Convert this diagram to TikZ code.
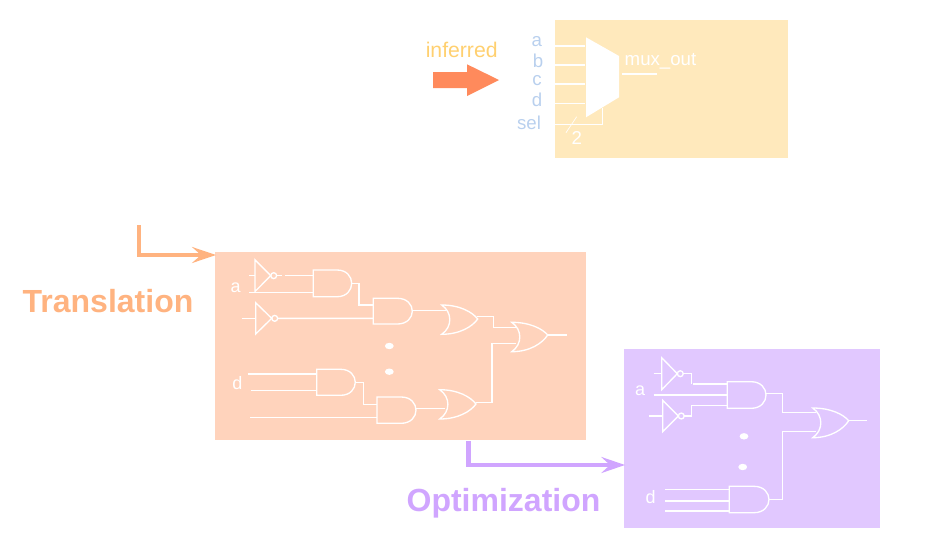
\documentclass[tikz,border=0pt]{standalone}
\usepackage{fontspec}
\setmainfont{Liberation Sans}
\definecolor{boxY}{HTML}{FFE9BC}
\definecolor{boxO}{HTML}{FFD3BC}
\definecolor{boxP}{HTML}{E1C8FF}
\definecolor{arrO}{HTML}{FF8A5C}
\definecolor{lineO}{HTML}{FFB380}
\definecolor{lineP}{HTML}{D0A5FF}
\definecolor{txtY}{HTML}{FFD070}
\definecolor{txtB}{HTML}{B9D0EE}
\usetikzlibrary{shapes.geometric}
\tikzset{
 wire/.style={draw=white,line width=1pt},
 gate/.style={draw=white,line width=1pt},
 dotn/.style={ellipse,fill=white,inner sep=0pt,minimum width=6.6pt,minimum height=4.8pt},
 lab/.style={font=\fontsize{14}{14}\selectfont,inner sep=0pt},
 inlab/.style={lab,text=white},
 cirlab/.style={font=\fontsize{13.5}{14}\selectfont,inner sep=0pt,text=white},
 sidelab/.style={lab,text=txtB},
 big/.style={font=\fontsize{24}{25}\bfseries\selectfont,inner sep=0pt},
 route/.style={line width=3.4pt}
}
% and gate: name, left, top, bottom, tip
\newcommand{\andgate}[5]{%
 \draw[gate] (#2,#3) -- ({#2+(#5-#2)*0.62},#3) .. controls ({#5-(#5-#2)*0.13},#3) and (#5,{#3+(#4-#3)*0.25}) .. (#5,{(#3+#4)/2}) .. controls (#5,{#4-(#4-#3)*0.25}) and ({#5-(#5-#2)*0.13},#4) .. ({#2+(#5-#2)*0.62},#4) -- (#2,#4) -- cycle;
 \coordinate (#1) at (#5,{(#3+#4)/2});}
% or gate: name, left, top, bottom, tip x, tip y
\newcommand{\orgate}[6]{%
 \draw[gate] (#2,#3) .. controls ({#2+(#5-#2)*0.5},#3) and ({#5-(#5-#2)*0.15},{#3+(#6-#3)*0.5}) .. (#5,#6) .. controls ({#5-(#5-#2)*0.15},{#4-(#4-#6)*0.5}) and ({#2+(#5-#2)*0.5},#4) .. (#2,#4) .. controls ({#2+(#5-#2)*0.3},{#4-(#4-#3)*0.25}) and ({#2+(#5-#2)*0.3},{#3+(#4-#3)*0.25}) .. (#2,#3) -- cycle;
 \coordinate (#1) at (#5,#6);}
% inverter: name, left, top, bottom, tip
\newcommand{\invgate}[5]{%
 \draw[gate] (#2,#3) -- (#5,{(#3+#4)/2}) -- (#2,#4) -- cycle;
 \draw[gate] ({#5+3},{(#3+#4)/2}) circle[radius=2.2pt];
 \coordinate (#1) at ({#5+6},{(#3+#4)/2});}
\begin{document}
\begin{tikzpicture}[x=0.75pt,y=-0.75pt]
\useasboundingbox (0,0) rectangle (928,557);
% top box
\fill[boxY] (555,20) rectangle (788,157.7);
\node[font=\fontsize{15.9}{16}\selectfont,text=txtY,inner sep=0pt] (inf) at (461.7,50) {inferred};
\fill[arrO] (433,72) -- (467,72) -- (467,64.3) -- (499,80) -- (467,96) -- (467,88) -- (433,88) -- cycle;
\coordinate (ma) at (585,46); \coordinate (mb) at (585,65); \coordinate (mc) at (585,84); \coordinate (md) at (585,103.3);
\coordinate (ia) at (555,46); \coordinate (ib) at (555,65); \coordinate (ic) at (555,84); \coordinate (id) at (555,103.3);
\foreach \p/\q in {ia/ma,ib/mb,ic/mc,id/md} \draw[wire] (\p) -- (\q);
\fill[white] (586,37.3) -- (619,56) -- (619,97.3) -- (586,117.3) -- cycle;
\node[sidelab] (la) at (536.7,42) {a};
\node[sidelab] (lb) at (538,60.5) {b};
\node[sidelab] (lc) at (537,80.5) {c};
\node[sidelab] (ld) at (537,100) {d};
\node[sidelab] (lsel) at (529,122.5) {sel};
\coordinate (s0) at (555,124.3); \coordinate (s1) at (602.3,108);
\draw[wire] (s0) -| (s1);
\coordinate (t0) at (576.7,116.7); \coordinate (t1) at (566,132.7);
\draw[draw=white,line width=0.5pt] (t0) -- (t1);
\node[inlab] (ltwo) at (576.7,138.3) {2};
\node[inlab] (lout) at (660.5,61.7) {mux\_out};
\coordinate (o0) at (621.7,74); \coordinate (o1) at (656.7,74);
\draw[wire] (o0) -- (o1);
% orange box
\fill[boxO] (215,252.3) rectangle (586,440.3);
\node[big,text=lineO] (tr) at (108,301) {Translation};
\coordinate (r0) at (139,225);\coordinate (r1) at (202,255);
\draw[route,draw=lineO] (r0) |- (r1);
\fill[lineO] (216,255) -- (191.7,246.8) -- (201,255) -- (191.7,263.2) -- cycle;
\invgate{i1}{255}{259.8}{291.5}{270.7}
\invgate{i2}{255.7}{302.7}{334}{271.7}
\andgate{a1}{313.3}{270}{296.7}{351.7}
\andgate{a2}{373.3}{298.3}{324}{412.3}
\andgate{a3}{316.7}{369.3}{395.3}{355.3}
\andgate{a4}{377}{397}{423.3}{416}
\orgate{o1g}{441.7}{305}{334.3}{477.7}{319}
\orgate{o2g}{511.7}{322.3}{351.7}{547.7}{335}
\orgate{o3g}{439.7}{389.7}{419}{476}{404}
\draw[wire] (249.3,275.7) -- (255,275.7);
\draw[wire] (i1) -- (282,275.65);
\draw[wire] (284.5,275.7) -- (313.3,275.7);
\draw[wire] (249.3,292.3) -- (313.3,292.3);
\draw[wire] (351.7,283.7) -- (359,283.7) -- (359,305) -- (373.3,305);
\draw[wire] (241.7,318.3) -- (255.7,318.3);
\draw[wire] (i2) -- (373.3,318.35);
\draw[wire] (411.8,310.7) -- (446,310.7);
\draw[wire] (477.2,316.7) -- (493.3,316.7) -- (493.3,327.3) -- (515.5,327.3);
\draw[wire] (475.7,402.3) -- (492,402.3) -- (492,343.3) -- (515.5,343.3);
\draw[wire] (o2g) -- (567.3,335);
\draw[wire] (247.7,374) -- (316.7,374);
\draw[wire] (251,390.7) -- (316.7,390.7);
\draw[wire] (355,382.3) -- (363.3,382.3) -- (363.3,404.3) -- (377,404.3);
\draw[wire] (250,417.7) -- (377,417.7);
\draw[wire] (415.5,408.7) -- (444.5,408.7);
\node[dotn] (d1) at (389.3,346) {};
\node[dotn] (d2) at (389.3,371.7) {};
\node[cirlab] (oa) at (235.7,287.3) {a};
\node[cirlab] (od) at (237.3,383.3) {d};
% purple box
\fill[boxP] (624,349) rectangle (879.7,528.3);
\node[big,text=lineP] (op) at (503.5,503.5) {Optimization};
\coordinate (q0) at (468.5,441);\coordinate (q1) at (611,465);
\draw[route,draw=lineP] (q0) |- (q1);
\fill[lineP] (625,465) -- (601,456.8) -- (610,465) -- (601,473.2) -- cycle;
\invgate{i3}{661.7}{357.7}{389.7}{677.3}
\invgate{i4}{662.7}{400.3}{431.7}{678.3}
\andgate{a5}{727.3}{381.7}{408.3}{766}
\andgate{a6}{729.3}{486.3}{512.7}{769}
\orgate{o4g}{812.7}{408}{437.7}{848.7}{420.7}
\draw[wire] (653.7,373.7) -- (661.7,373.7);
\draw[wire] (i3) -- (691.3,373.7) -- (691.3,384);
\draw[wire] (693.3,384) -- (727.3,384);
\draw[wire] (653.7,395) -- (727.3,395);
\draw[wire] (649,416) -- (662.7,416);
\draw[wire] (i4) -- (691.3,416) -- (691.3,405.7) -- (727.3,405.7);
\draw[wire] (766,393.7) -- (782.7,393.7) -- (782.7,412.7) -- (816,412.7);
\draw[wire] (o4g) -- (867.3,420.7);
\draw[wire] (665,489.3) -- (729.3,489.3);
\draw[wire] (665,501) -- (729.3,501);
\draw[wire] (665,511) -- (729.3,511);
\draw[wire] (768.5,499.3) -- (782.7,499.3) -- (782.7,431.7) -- (816,431.7);
\node[dotn] (d3) at (744,436.3) {};
\node[dotn] (d4) at (742.7,467) {};
\node[cirlab] (pa) at (640,390.7) {a};
\node[cirlab] (pd) at (650.7,497.3) {d};
\end{tikzpicture}
\end{document}
